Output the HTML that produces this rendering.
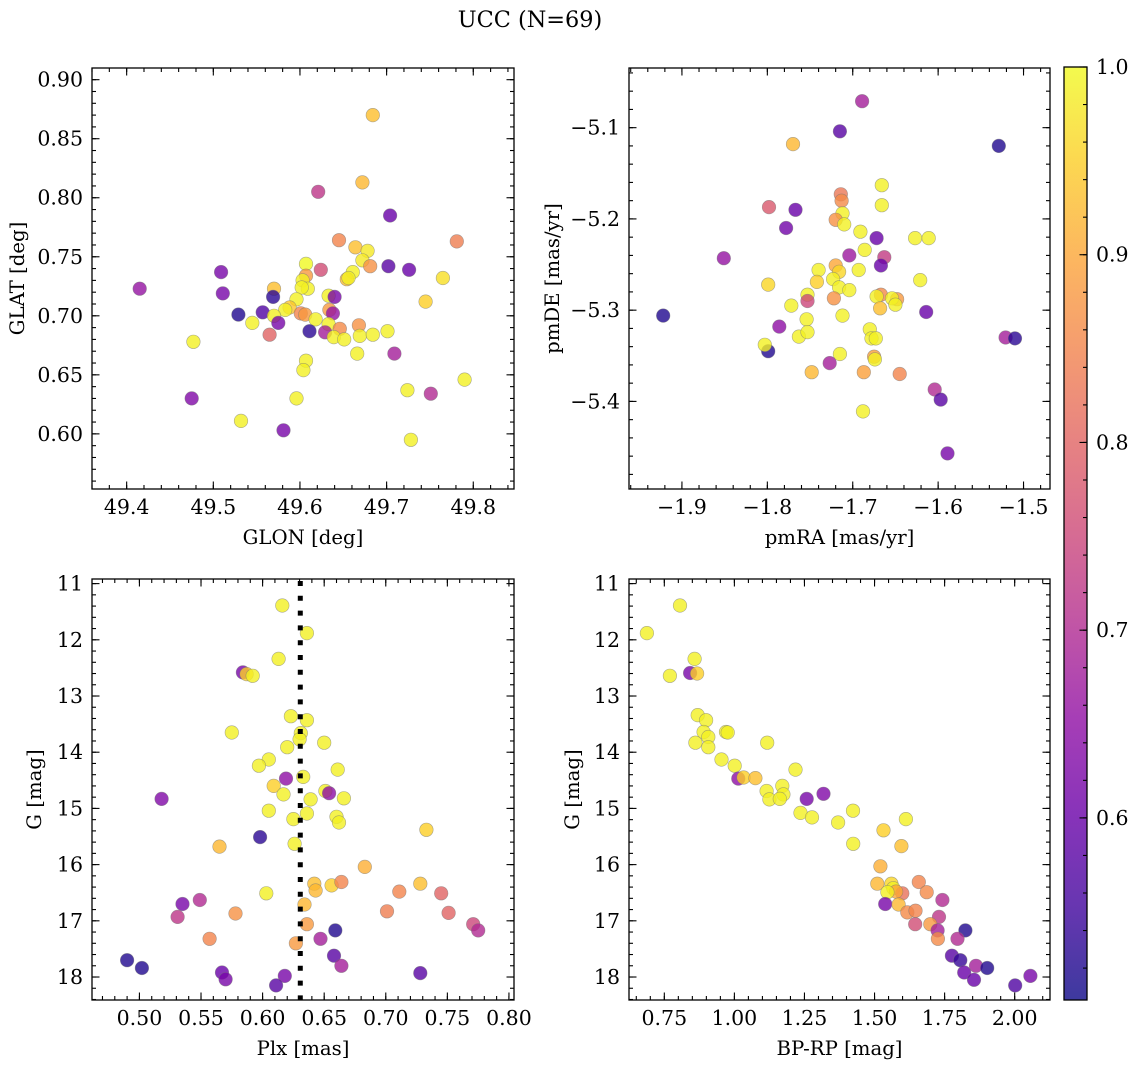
<!DOCTYPE html>
<html><head><meta charset="utf-8">
<style>
html,body{margin:0;padding:0;background:#fff;}
svg{display:block;font-family:"DejaVu Serif","Liberation Serif",serif;}
</style></head>
<body>
<svg id="fig" width="1136" height="1067" viewBox="0 0 1136 1067" xmlns="http://www.w3.org/2000/svg">
<text x="530" y="27" font-size="22.4" text-anchor="middle">UCC (N=69)</text>
</svg>
<script>
// ---- data ----
const glon = [49.684,49.672,49.621,49.704,49.645,49.781,49.664,49.678,49.672,49.681,49.607,49.509,49.624,49.702,49.726,49.607,49.661,49.654,49.656,49.603,49.765,49.415,49.570,49.609,49.602,49.511,49.569,49.633,49.640,49.745,49.596,49.588,49.583,49.529,49.557,49.601,49.606,49.634,49.638,49.570,49.545,49.575,49.618,49.633,49.646,49.668,49.629,49.611,49.565,49.639,49.651,49.669,49.684,49.701,49.477,49.666,49.709,49.607,49.604,49.724,49.790,49.751,49.475,49.596,49.532,49.581,49.728];
const glat = [0.870,0.813,0.805,0.785,0.764,0.763,0.758,0.755,0.747,0.742,0.744,0.737,0.739,0.742,0.739,0.734,0.737,0.731,0.732,0.730,0.732,0.723,0.723,0.723,0.724,0.719,0.716,0.717,0.716,0.712,0.714,0.707,0.705,0.701,0.703,0.702,0.701,0.705,0.702,0.700,0.694,0.694,0.697,0.693,0.689,0.692,0.686,0.687,0.684,0.682,0.680,0.683,0.684,0.687,0.678,0.668,0.668,0.662,0.654,0.637,0.646,0.634,0.630,0.630,0.611,0.603,0.595];
const probPos = [0.93,0.92,0.72,0.60,0.85,0.84,0.93,0.98,0.98,0.87,1.0,0.62,0.76,0.58,0.60,0.88,0.99,0.93,0.99,0.99,0.97,0.66,0.93,0.99,0.99,0.62,0.53,0.99,0.62,0.95,0.99,0.94,0.99,0.52,0.57,0.85,0.88,0.88,0.66,0.99,0.99,0.62,0.99,0.99,0.86,0.87,0.68,0.53,0.80,0.99,0.99,0.99,0.99,0.99,0.99,0.99,0.68,0.99,0.99,0.99,0.99,0.70,0.63,0.99,0.99,0.62,0.99];

const pmra = [-1.689,-1.715,-1.770,-1.529,-1.666,-1.714,-1.713,-1.666,-1.798,-1.767,-1.712,-1.720,-1.710,-1.778,-1.691,-1.672,-1.627,-1.611,-1.686,-1.704,-1.663,-1.851,-1.667,-1.740,-1.720,-1.716,-1.693,-1.742,-1.723,-1.621,-1.799,-1.716,-1.704,-1.667,-1.672,-1.648,-1.654,-1.753,-1.753,-1.722,-1.772,-1.668,-1.650,-1.614,-1.922,-1.712,-1.754,-1.786,-1.763,-1.753,-1.680,-1.678,-1.673,-1.521,-1.510,-1.799,-1.803,-1.715,-1.675,-1.674,-1.727,-1.748,-1.687,-1.645,-1.604,-1.597,-1.688,-1.589];
const pmde = [-5.071,-5.104,-5.118,-5.120,-5.163,-5.173,-5.180,-5.185,-5.187,-5.190,-5.194,-5.201,-5.206,-5.210,-5.214,-5.221,-5.221,-5.221,-5.234,-5.240,-5.242,-5.243,-5.251,-5.256,-5.251,-5.258,-5.256,-5.269,-5.266,-5.267,-5.272,-5.275,-5.278,-5.283,-5.285,-5.288,-5.287,-5.283,-5.290,-5.287,-5.295,-5.298,-5.294,-5.302,-5.306,-5.306,-5.310,-5.318,-5.329,-5.324,-5.321,-5.331,-5.331,-5.330,-5.331,-5.345,-5.338,-5.348,-5.351,-5.354,-5.358,-5.368,-5.368,-5.370,-5.387,-5.398,-5.411,-5.457];
const probPm = [0.68,0.58,0.92,0.52,0.99,0.83,0.86,0.99,0.78,0.60,0.99,0.87,0.99,0.61,0.99,0.60,0.99,0.99,0.99,0.67,0.73,0.66,0.60,0.99,0.90,0.96,0.99,0.95,0.99,0.99,0.96,0.99,0.99,0.86,0.99,0.88,0.99,0.99,0.75,0.87,0.99,0.93,0.99,0.60,0.52,0.99,0.99,0.65,0.99,0.99,0.99,0.99,0.99,0.68,0.53,0.52,0.99,0.99,0.89,0.99,0.68,0.92,0.89,0.85,0.70,0.58,0.99,0.62];

const plx = [0.616,0.636,0.613,0.584,0.587,0.592,0.623,0.636,0.575,0.631,0.630,0.650,0.620,0.605,0.597,0.661,0.633,0.619,0.609,0.617,0.651,0.654,0.518,0.639,0.666,0.605,0.636,0.660,0.662,0.625,0.733,0.598,0.565,0.626,0.683,0.728,0.642,0.643,0.656,0.664,0.711,0.745,0.603,0.549,0.535,0.634,0.701,0.578,0.751,0.531,0.636,0.771,0.775,0.659,0.557,0.647,0.627,0.490,0.502,0.658,0.664,0.567,0.570,0.728,0.618,0.611];
const gmagA = [11.39,11.88,12.34,12.58,12.61,12.64,13.36,13.43,13.65,13.66,13.77,13.83,13.91,14.13,14.24,14.31,14.44,14.47,14.60,14.75,14.69,14.73,14.83,14.84,14.82,15.04,15.09,15.15,15.25,15.19,15.38,15.51,15.68,15.63,16.04,16.34,16.34,16.46,16.37,16.31,16.48,16.51,16.51,16.63,16.70,16.71,16.83,16.87,16.86,16.93,17.06,17.06,17.17,17.17,17.32,17.32,17.40,17.70,17.84,17.62,17.80,17.92,18.04,17.93,17.98,18.15];
const probPlx = [0.99,0.99,0.99,0.62,0.95,0.99,0.99,0.99,0.99,0.99,0.99,0.99,0.99,0.99,0.99,0.99,0.99,0.65,0.95,0.99,0.99,0.65,0.63,0.99,0.99,0.99,0.99,0.99,0.99,0.99,0.95,0.53,0.92,0.99,0.91,0.93,0.93,0.92,0.95,0.85,0.85,0.80,0.99,0.70,0.62,0.92,0.84,0.87,0.80,0.72,0.88,0.75,0.70,0.52,0.85,0.68,0.88,0.52,0.52,0.58,0.68,0.60,0.62,0.58,0.62,0.58];

const bprp = [0.688,0.806,0.858,0.770,0.842,0.867,0.869,0.899,0.890,0.907,0.970,0.976,0.861,0.907,1.117,0.954,1.001,1.218,1.014,1.033,1.075,1.115,1.171,1.175,1.125,1.162,1.258,1.318,1.236,1.277,1.423,1.370,1.612,1.532,1.424,1.596,1.521,1.510,1.560,1.567,1.658,1.686,1.599,1.577,1.546,1.742,1.538,1.586,1.617,1.646,1.730,1.645,1.699,1.725,1.824,1.726,1.796,1.776,1.806,1.862,1.902,1.820,2.056,1.855,2.002];
const gmagB = [11.88,11.39,12.34,12.64,12.59,12.60,13.34,13.43,13.64,13.73,13.64,13.65,13.83,13.91,13.83,14.13,14.24,14.31,14.47,14.45,14.46,14.69,14.60,14.75,14.84,14.83,14.83,14.74,15.08,15.16,15.04,15.25,15.19,15.39,15.63,15.67,16.03,16.34,16.34,16.42,16.31,16.49,16.51,16.48,16.49,16.63,16.70,16.71,16.85,16.82,16.93,17.06,17.06,17.17,17.17,17.32,17.32,17.62,17.70,17.80,17.84,17.92,17.98,18.05,18.15];
const probCmd = [0.99,0.99,0.99,0.99,0.62,0.95,0.99,0.99,0.99,0.99,0.99,0.99,0.99,0.99,0.99,0.99,0.99,0.99,0.65,0.95,0.93,0.99,0.99,0.99,0.99,0.99,0.62,0.63,0.99,0.99,0.99,0.99,0.99,0.95,0.99,0.93,0.91,0.92,0.96,0.99,0.85,0.86,0.82,0.90,0.99,0.70,0.62,0.92,0.86,0.85,0.72,0.76,0.88,0.68,0.52,0.86,0.70,0.58,0.54,0.68,0.52,0.60,0.62,0.60,0.57];

const plxLine = 0.6306;
const cbTicks = [0.6,0.7,0.8,0.9,1.0];
const vmin = 0.503, vmax = 1.0;

// ---- helpers ----
const NS = "http://www.w3.org/2000/svg";
const svg = document.getElementById('fig');
const TICKFS = 20.5, LABFS = 19.7;
function mk(tag, attrs, parent){ const e=document.createElementNS(NS,tag); for(const k in attrs) e.setAttribute(k,attrs[k]); (parent||svg).appendChild(e); return e; }
const stops=[[13,8,135],[65,4,157],[106,0,168],[143,13,164],[177,42,144],[204,71,120],[225,100,98],[242,132,75],[252,166,54],[252,206,37],[240,249,33]];
function plasma(t){ t=Math.max(0,Math.min(1,t)); const f=t*10, i=Math.min(9,Math.floor(f)), r=f-i; const a=stops[i], b=stops[i+1]; return 'rgb('+[0,1,2].map(k=>Math.round(a[k]+(b[k]-a[k])*r)).join(',')+')'; }
function colorOf(p){ return plasma((p-vmin)/(vmax-vmin)); }
function fmt(v,d){ const s=Math.abs(v).toFixed(d); return (v< -1e-9?'\u2212':'')+s; }

function panel(cfg){
  const {L,R,T,B,xd,yd}=cfg;
  const sx=v=>L+(v-xd[0])/(xd[1]-xd[0])*(R-L);
  const sy=v=>T+(v-yd[0])/(yd[1]-yd[0])*(B-T);
  const g=mk('g',{});
  
  
  const pts=mk('g',{},g);
  
  
  for(let i=0;i<cfg.xs.length;i++){
    const c=mk('circle',{cx:sx(cfg.xs[i]).toFixed(1),cy:sy(cfg.ys[i]).toFixed(1),r:6.8,fill:colorOf(cfg.ps[i]),'fill-opacity':0.8,stroke:'#777','stroke-opacity':0.6,'stroke-width':0.6},pts);
    
    
  }
  if(cfg.vline!==undefined){
    const ln=mk('line',{x1:sx(cfg.vline),x2:sx(cfg.vline),y1:T+2,y2:B,stroke:'#000','stroke-width':5,'stroke-dasharray':'5 9.8'},g);
    
    
  }
  const tk=mk('g',{stroke:'#000','stroke-width':1.1},g);
  
  
  const eps=1e-7;
  function each(dom,step,fn){ const a=Math.min(dom[0],dom[1]), b=Math.max(dom[0],dom[1]); for(let k=Math.ceil(a/step-eps);k*step<=b+eps;k++) fn(k*step); }
  each(xd,cfg.xmin,v=>{const x=sx(v); mk('line',{x1:x,x2:x,y1:B,y2:B-4},tk); mk('line',{x1:x,x2:x,y1:T,y2:T+4},tk);});
  each(yd,cfg.ymin,v=>{const y=sy(v); mk('line',{x1:L,x2:L+4,y1:y,y2:y},tk); mk('line',{x1:R,x2:R-4,y1:y,y2:y},tk);});
  each(xd,cfg.xmaj,v=>{const x=sx(v); mk('line',{x1:x,x2:x,y1:B,y2:B-7.5},tk); mk('line',{x1:x,x2:x,y1:T,y2:T+7.5},tk);
    const t=mk('text',{x:x,y:B+25,'font-size':TICKFS,'text-anchor':'middle',stroke:'none',fill:'#000'},g); t.textContent=fmt(v,cfg.xdec);
     });
  each(yd,cfg.ymaj,v=>{const y=sy(v); mk('line',{x1:L,x2:L+7.5,y1:y,y2:y},tk); mk('line',{x1:R,x2:R-7.5,y1:y,y2:y},tk);
    const t=mk('text',{x:L-9,y:y+7,'font-size':TICKFS,'text-anchor':'end',stroke:'none',fill:'#000'},g); t.textContent=fmt(v,cfg.ydec);
     });
  const fr=mk('rect',{x:L,y:T,width:R-L,height:B-T,fill:'none',stroke:'#000','stroke-width':1.3},g);
  
  
  const xl=mk('text',{x:(L+R)/2,y:B+55,'font-size':LABFS,'text-anchor':'middle'},g); xl.textContent=cfg.xlabel;
   
  const yx=cfg.ylx, yy=(T+B)/2;
  const yl=mk('text',{x:yx,y:yy,'font-size':LABFS,'text-anchor':'middle',transform:'rotate(-90 '+yx+' '+yy+')'},g); yl.textContent=cfg.ylabel;
   
}

panel({name:'glon-glat-panel',L:92,R:514,T:68,B:489,xd:[49.360,49.847],yd:[0.9099,0.5533],xs:glon,ys:glat,ps:probPos,xmaj:0.1,xmin:0.02,ymaj:0.05,ymin:0.01,xdec:1,ydec:2,xlabel:'GLON [deg]',ylabel:'GLAT [deg]',ylx:24});
panel({name:'pm-panel',L:629,R:1050,T:68,B:489,xd:[-1.962,-1.469],yd:[-5.0346,-5.496],xs:pmra,ys:pmde,ps:probPm,xmaj:0.1,xmin:0.02,ymaj:0.1,ymin:0.02,xdec:1,ydec:1,xlabel:'pmRA [mas/yr]',ylabel:'pmDE [mas/yr]',ylx:559});
panel({name:'plx-g-panel',L:92,R:514,T:579,B:1000,xd:[0.4615,0.8041],yd:[10.918,18.409],xs:plx,ys:gmagA,ps:probPlx,xmaj:0.05,xmin:0.01,ymaj:1,ymin:0.2,xdec:2,ydec:0,xlabel:'Plx [mas]',ylabel:'G [mag]',ylx:41,vline:plxLine});
panel({name:'cmd-panel',L:629,R:1050,T:579,B:1000,xd:[0.624,2.126],yd:[10.918,18.409],xs:bprp,ys:gmagB,ps:probCmd,xmaj:0.25,xmin:0.05,ymaj:1,ymin:0.2,xdec:2,ydec:0,xlabel:'BP-RP [mag]',ylabel:'G [mag]',ylx:579});

// colorbar
(function(){
  const L=1064,R=1087,T=67,B=1000;
  const cy=v=>B-(v-vmin)/(vmax-vmin)*(B-T);
  const g=mk('g',{});
  
  
  const defs=mk('defs',{},g);
  const lg=mk('linearGradient',{id:'cbg',x1:0,y1:1,x2:0,y2:0},defs);
  for(let i=0;i<=20;i++){ mk('stop',{offset:(i/20),'stop-color':plasma(i/20),'stop-opacity':0.8},lg); }
  mk('rect',{x:L,y:T,width:R-L,height:B-T,fill:'url(#cbg)'},g);
  const tk=mk('g',{stroke:'#000','stroke-width':1.1},g);
  for(let k=26;k<=50;k++){ const v=k*0.02; if(v<vmin-1e-9||v>vmax+1e-9) continue; const y=cy(v); mk('line',{x1:R,x2:R-4,y1:y,y2:y},tk); }
  cbTicks.forEach(v=>{ const y=cy(v); mk('line',{x1:R,x2:R-7.5,y1:y,y2:y},tk);
    const t=mk('text',{x:R+9,y:y+7,'font-size':TICKFS},g); t.textContent=v.toFixed(1);
      });
  mk('rect',{x:L,y:T,width:R-L,height:B-T,fill:'none',stroke:'#000','stroke-width':1.3},g);
})();
</script>
</body></html>
